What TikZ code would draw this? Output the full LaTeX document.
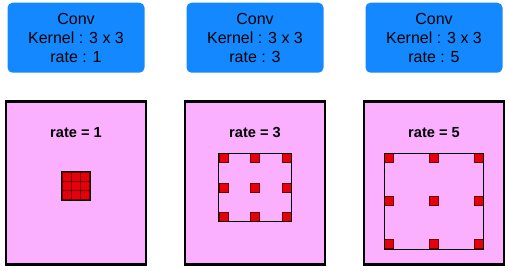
\documentclass[tikz,border=0pt]{standalone}
\usepackage{fontspec}
\setmainfont{Liberation Sans}
\usetikzlibrary{positioning}

\definecolor{convblue}{RGB}{20,137,255}
\definecolor{mappink}{RGB}{250,176,255}
\definecolor{cellred}{RGB}{230,0,12}
\definecolor{celledge}{RGB}{110,0,0}

\begin{document}
\begin{tikzpicture}[
    x=0.5pt, y=-0.5pt,
    conv/.style={rectangle, rounded corners=2.5pt, fill=convblue, minimum width=68.5pt,
        minimum height=35pt, inner sep=0pt, align=center, font=\fontsize{8pt}{9.5pt}\selectfont},
    fmap/.style={rectangle, draw=black, line width=1.2pt, fill=mappink, minimum width=70pt,
        minimum height=81.5pt, inner sep=0pt},
    ratelabel/.style={inner sep=0pt, font=\bfseries\fontsize{7.3pt}{8pt}\selectfont},
    window/.style={rectangle, inner sep=0pt},
    frame/.style={draw=black, line width=0.5pt},
    cell/.style={rectangle, draw=celledge, line width=0.4pt, fill=cellred, minimum size=4.5pt, inner sep=0pt}
]
    \useasboundingbox (0,0) rectangle (508,270);

    % Feature maps (3 columns)
    \node[fmap] (map1) at (76,182.8) {};
    \node[fmap] (map2) at (255,182.8) {};
    \node[fmap] (map3) at (434,182.8) {};

    % Conv blocks above the maps
    \node[conv, above=13.5pt of map1] (conv1) {Conv\\Kernel : 3 x 3\\rate : 1};
    \node[conv, above=13.5pt of map2] (conv2) {Conv\\Kernel : 3 x 3\\rate : 3};
    \node[conv, above=13.5pt of map3] (conv3) {Conv\\Kernel : 3 x 3\\rate : 5};

    % Rate labels inside the maps
    \node[ratelabel, below=13.5pt of map1.north] (lbl1) {rate = 1};
    \node[ratelabel, below=13.5pt of map2.north] (lbl2) {rate = 3};
    \node[ratelabel, below=13.5pt of map3.north] (lbl3) {rate = 5};

    % Kernel windows
    \node[window, minimum width=13.7pt, minimum height=13.7pt] (win1) at (76,186) {};
    \node[window, minimum width=36pt, minimum height=33.7pt, anchor=north] (win2) at (255.3,153.3) {};
    \node[window, minimum width=49.3pt, minimum height=47.5pt, anchor=north] (win3) at (434,153.3) {};

    % 3 x 3 kernel cells, one at each anchor of the window
    \foreach \w in {win1, win2, win3}
        \foreach \a [count=\k] in {north west, north, north east, west, center, east, south west, south, south east}
            \node[cell, anchor=\a] (\w-c\k) at (\w.\a) {};

    % window outlines on top
    \foreach \w in {win1, win2, win3}
        \draw[frame] (\w.north west) rectangle (\w.south east);

\end{tikzpicture}
\end{document}
